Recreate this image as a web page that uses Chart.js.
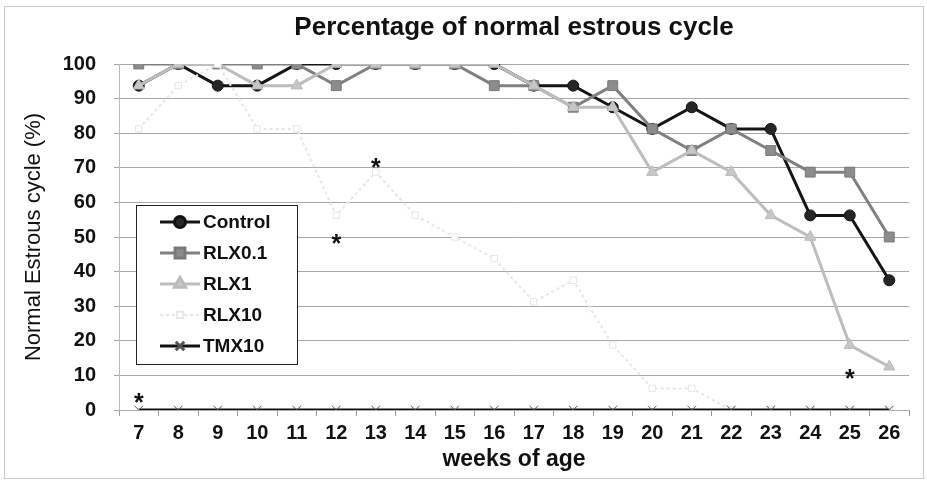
<!DOCTYPE html>
<html>
<head>
<meta charset="utf-8">
<script src="https://cdn.jsdelivr.net/npm/chart.js@4/dist/chart.umd.min.js"></script>
<style>
  body { margin: 0; background: #fff; }
</style>
</head>
<body>
<canvas id="chart" width="927" height="481"></canvas>
<script>
const weeks = ['7', '8', '9', '10', '11', '12', '13', '14', '15', '16', '17', '18', '19', '20', '21', '22', '23', '24', '25', '26'];
const control = [93.75, 100, 93.75, 93.75, 100, 100, 100, 100, 100, 100, 93.75, 93.75, 87.5, 81.25, 87.5, 81.25, 81.25, 56.25, 56.25, 37.5];
const rlx01 = [100, 100, 100, 100, 100, 93.75, 100, 100, 100, 93.75, 93.75, 87.5, 93.75, 81.25, 75, 81.25, 75, 68.75, 68.75, 50];
const rlx1 = [93.75, 100, 100, 93.75, 93.75, 100, 100, 100, 100, 100, 93.75, 87.5, 87.5, 68.75, 75, 68.75, 56.25, 50, 18.75, 12.5];
const rlx10 = [81.25, 93.75, 100, 81.25, 81.25, 56.25, 68.75, 56.25, 50, 43.75, 31.25, 37.5, 18.75, 6.25, 6.25, 0, 0, 0, 0, 0];
const tmx10 = [0, 0, 0, 0, 0, 0, 0, 0, 0, 0, 0, 0, 0, 0, 0, 0, 0, 0, 0, 0];
const yTicks = [0, 10, 20, 30, 40, 50, 60, 70, 80, 90, 100];

// significance marks
const starWeeks = ['7', '12', '13', '25'];
const starValues = [4, 50, 72, 11];

const FONT = '"Liberation Sans", Arial, sans-serif';
const ctx = document.getElementById('chart').getContext('2d');

const frame = {
    id: 'frame',
    beforeDraw(chart) {
        const c = chart.ctx;
        c.save();
        c.fillStyle = '#fff';
        c.fillRect(0, 0, chart.width, chart.height);
        c.strokeStyle = '#c8c8c8';
        c.lineWidth = 1;
        c.strokeRect(4.5, 6.5, 919, 472);
        // title centred over the plot area
        const a = chart.chartArea;
        c.fillStyle = '#111';
        c.font = 'bold 26px ' + FONT;
        c.textAlign = 'center';
        c.textBaseline = 'middle';
        c.fillText('Percentage of normal estrous cycle', (a.left + a.right) / 2, 28);
        c.restore();
    }
};

const stars = {
    id: 'stars',
    afterDatasetsDraw(chart) {
        const c = chart.ctx;
        const x = chart.scales.x, y = chart.scales.y;
        c.save();
        c.fillStyle = '#111';
        c.font = 'bold 25px ' + FONT;
        c.textAlign = 'center';
        c.textBaseline = 'alphabetic';
        starWeeks.forEach((w, i) => {
            c.fillText('*', x.getPixelForValue(weeks.indexOf(w)), y.getPixelForValue(starValues[i]) + 15);
        });
        c.restore();
    }
};

const boxLegend = {
    id: 'boxLegend',
    afterDraw(chart) {
        const c = chart.ctx;
        c.save();
        c.fillStyle = '#fff';
        c.fillRect(136, 205, 161, 159);
        c.strokeStyle = '#222';
        c.lineWidth = 1;
        c.strokeRect(136.5, 205.5, 161, 159);
        c.font = 'bold 19px ' + FONT;
        c.textBaseline = 'middle';
        chart.data.datasets.forEach((ds, i) => {
            const ly = 222 + i * 31;
            c.strokeStyle = ds.borderColor;
            c.lineWidth = ds.borderWidth;
            c.setLineDash(ds.borderDash || []);
            c.beginPath();
            c.moveTo(160, ly);
            c.lineTo(200, ly);
            c.stroke();
            c.setLineDash([]);
            c.fillStyle = ds.pointBackgroundColor;
            c.strokeStyle = ds.pointBorderColor;
            Chart.helpers.drawPoint(c, {
                pointStyle: ds.pointStyle,
                radius: ds.pointRadius,
                borderWidth: ds.pointBorderWidth,
                rotation: 0
            }, 180, ly);
            c.fillStyle = '#111';
            c.fillText(ds.label, 203, ly + 1);
        });
        c.restore();
    }
};

new Chart(ctx, {
    type: 'line',
    data: {
        labels: weeks,
        datasets: [
            {
                label: 'Control', data: control, order: 5,
                borderColor: '#151515', borderWidth: 3,
                pointStyle: 'circle', pointRadius: 5.5, pointBorderWidth: 1,
                pointBackgroundColor: '#262626', pointBorderColor: '#111'
            },
            {
                label: 'RLX0.1', data: rlx01, order: 4,
                borderColor: '#808080', borderWidth: 3,
                pointStyle: 'rect', pointRadius: 7, pointBorderWidth: 1,
                pointBackgroundColor: '#8c8c8c', pointBorderColor: '#7a7a7a'
            },
            {
                label: 'RLX1', data: rlx1, order: 3,
                borderColor: '#bdbdbd', borderWidth: 3,
                pointStyle: 'triangle', pointRadius: 6.5, pointBorderWidth: 1,
                pointBackgroundColor: '#c6c6c6', pointBorderColor: '#bbbbbb'
            },
            {
                label: 'RLX10', data: rlx10, order: 2,
                borderColor: '#e6e6e6', borderWidth: 2, borderDash: [3, 3],
                pointStyle: 'rect', pointRadius: 4.5, pointBorderWidth: 1,
                pointBackgroundColor: '#ffffff', pointBorderColor: '#e6e6e6'
            },
            {
                label: 'TMX10', data: tmx10, order: 1,
                borderColor: '#111', borderWidth: 3,
                pointStyle: 'crossRot', pointRadius: 6, pointBorderWidth: 1,
                pointBackgroundColor: '#555', pointBorderColor: '#555'
            }
        ]
    },
    options: {
        responsive: false,
        animation: false,
        layout: { padding: { top: 64, right: 18, bottom: 0, left: 0 } },
        plugins: {
            legend: { display: false },
            tooltip: { enabled: false },
            title: { display: false }
        },
        scales: {
            x: {
                offset: true,
                afterFit: (s) => { s.height = 71; },
                grid: { display: true, drawOnChartArea: false, offset: true, tickLength: 6, color: '#999' },
                border: { color: '#aaa' },
                ticks: {
                    color: '#111', padding: 5,
                    font: { family: FONT, size: 20, weight: 'bold' }
                },
                title: {
                    display: true, text: 'weeks of age', color: '#111',
                    font: { family: FONT, size: 23, weight: 'bold' },
                    padding: { top: 0, bottom: 8 }
                }
            },
            y: {
                min: 0, max: 100,
                afterFit: (s) => { s.width = 119; },
                afterBuildTicks: (s) => { s.ticks = yTicks.map(v => ({ value: v })); },
                grid: { color: '#a8a8a8', tickLength: 5 },
                border: { color: '#bbb' },
                ticks: {
                    color: '#111', padding: 18,
                    font: { family: FONT, size: 20, weight: 'bold' }
                },
                title: {
                    display: true, text: 'Normal Estrous cycle (%)', color: '#111',
                    font: { family: FONT, size: 22 },
                    padding: { top: 21, bottom: 0 }
                }
            }
        }
    },
    plugins: [frame, stars, boxLegend]
});
</script>
</body>
</html>
